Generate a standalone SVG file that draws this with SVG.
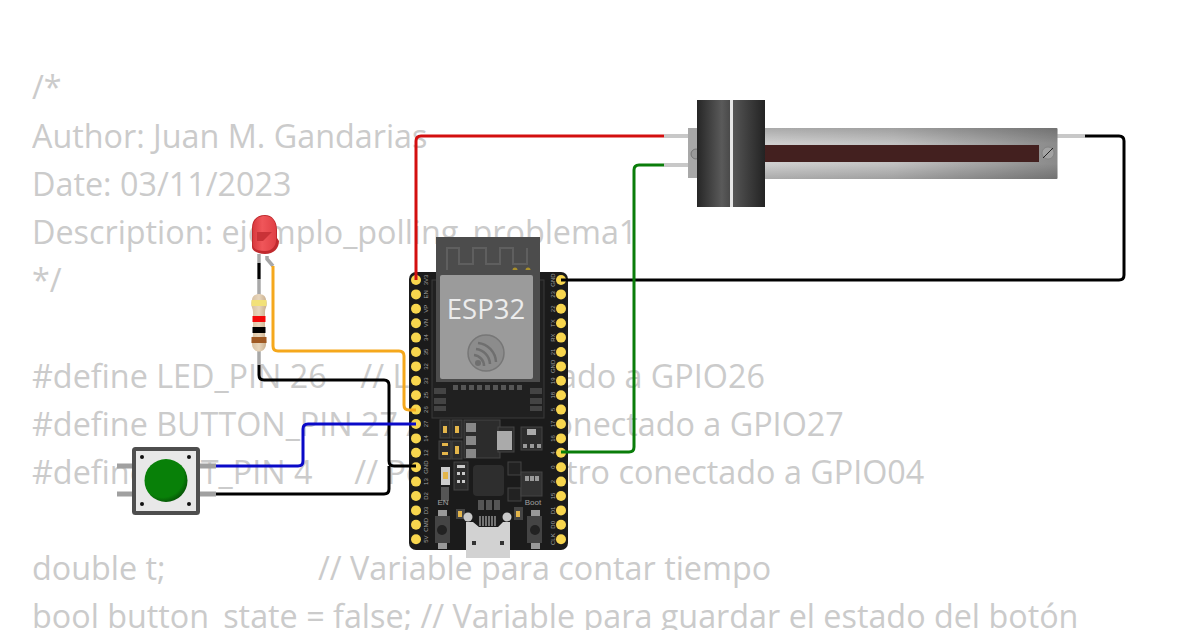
<svg xmlns="http://www.w3.org/2000/svg" width="1200" height="630" viewBox="0 0 1200 630">
<style>
.code{font-family:"Open Sans","Noto Sans",sans-serif;font-size:32.320px;fill:#cbcbcb}
.w{fill:none;stroke-width:3;stroke-linejoin:round}
.pin{fill:#f8d64e;stroke:none}
.pl{font-family:"Liberation Sans",sans-serif;font-size:6px;fill:#a0a0a0;text-anchor:middle}
.lead{fill:none;stroke:#a8a8a8;stroke-width:3.500}
.slead{fill:none;stroke:#c8c8c8;stroke-width:4}
.sil{font-family:"Liberation Sans",sans-serif;font-size:8px;fill:#a0a0a0;text-anchor:middle}
</style>
<defs>
<linearGradient id="kn" x1="0" x2="1" y1="0" y2="0"><stop offset="0" stop-color="#262626"/><stop offset="0.75" stop-color="#5a5a5a"/><stop offset="1" stop-color="#4a4a4a"/></linearGradient>
<linearGradient id="kn2" x1="0" x2="1" y1="0" y2="0"><stop offset="0" stop-color="#555"/><stop offset="1" stop-color="#232323"/></linearGradient>
<linearGradient id="body" x1="0" x2="1" y1="0" y2="0"><stop offset="0" stop-color="#d0d0d0"/><stop offset="0.45" stop-color="#c2c2c2"/><stop offset="1" stop-color="#8a8a8a"/></linearGradient>
<linearGradient id="bodyv" x1="0" x2="0" y1="0" y2="1"><stop offset="0" stop-color="#000" stop-opacity="0.18"/><stop offset="0.3" stop-color="#000" stop-opacity="0"/><stop offset="0.7" stop-color="#000" stop-opacity="0"/><stop offset="1" stop-color="#000" stop-opacity="0.18"/></linearGradient>
<radialGradient id="btn" cx="0.42" cy="0.4" r="0.68"><stop offset="0.72" stop-color="#088008"/><stop offset="1" stop-color="#044004"/></radialGradient>
<linearGradient id="res" x1="0" x2="1" y1="0" y2="0"><stop offset="0" stop-color="#d8c0a0"/><stop offset="0.5" stop-color="#e8d6bc"/><stop offset="1" stop-color="#c8ae8c"/></linearGradient>
<linearGradient id="ledg" x1="0" x2="1" y1="0" y2="0"><stop offset="0" stop-color="#d93a3e"/><stop offset="0.4" stop-color="#f0565a"/><stop offset="1" stop-color="#e04045"/></linearGradient>
</defs>

<g id="code-text" opacity="0.99">
<text class="code" x="32" y="99">/*</text>
<text class="code" x="32" y="148">Author: Juan M. Gandarias</text>
<text class="code" x="32" y="196">Date: 03/11/2023</text>
<text class="code" x="32" y="244">Description: ejemplo_polling_problema1</text>
<text class="code" x="32" y="292">*/</text>
<text class="code" x="32" y="388" xml:space="preserve">#define LED_PIN 26    // LED conectado a GPIO26</text>
<text class="code" x="32" y="436" xml:space="preserve">#define BUTTON_PIN 27 // Botón conectado a GPIO27</text>
<text class="code" x="32" y="484" xml:space="preserve">#define POT_PIN 4     // Potenciómetro conectado a GPIO04</text>
<text class="code" x="32" y="580">double t;</text>
<text class="code" x="318" y="580">// Variable para contar tiempo</text>
<text class="code" x="32" y="628" xml:space="preserve">bool button_state = false; // Variable para guardar el estado del botón</text>
</g>

<g id="slider">
<path class="slead" d="M664 136H690M664 165H690M1057 136H1085"/>
<rect x="688" y="128" width="12" height="50" fill="#a8a8a8"/>
<circle cx="696" cy="154" r="5" fill="#999" stroke="#666" stroke-width="0.7"/>
<rect x="760" y="128" width="297.500" height="51" rx="1" fill="url(#body)"/>
<rect x="760" y="128" width="297.500" height="51" rx="1" fill="url(#bodyv)"/>
<rect x="764" y="145" width="275" height="17" fill="#43201f"/>
<circle cx="1048" cy="153" r="6" fill="#a2a2a2" stroke="#777" stroke-width="0.6"/>
<path d="M1043 158L1053 148" stroke="#222" stroke-width="1"/>
<rect x="697" y="100" width="33" height="107" fill="url(#kn)"/>
<rect x="733" y="100" width="32" height="107" fill="url(#kn2)"/>
<rect x="730" y="100" width="3" height="107" fill="#e6e6e6"/>
</g>

<g id="esp32">
<rect x="409" y="272" width="159" height="278" rx="7" fill="#1b1b1b"/>
<rect x="436" y="237" width="104" height="50" fill="#4c4c4c"/>
<path d="M447 270V248H459V264H473V248H486V264H500V248H513V264H527V248" fill="none" stroke="#5f5f5f" stroke-width="2"/>
<circle cx="515" cy="270" r="2.500" fill="#a88f2c"/>
<circle cx="528" cy="270" r="2.500" fill="#a88f2c"/>
<rect x="432" y="280" width="112" height="138" fill="#202020" stroke="#3a3a3a"/>
<rect x="436" y="270" width="104" height="112" fill="#4c4c4c"/>
<rect x="440" y="275" width="93" height="104" rx="2" fill="#9b9b9b"/>
<text x="486" y="319" font-family="Open Sans,Noto Sans,sans-serif" font-size="27.500" fill="#ececec" text-anchor="middle">ESP32</text>
<circle cx="486" cy="353" r="18" fill="#8c8c8c" stroke="#777" stroke-width="1.500"/>
<path d="M478 343a20 20 0 0 1 18 19M476 349a16 16 0 0 1 14 15M474 355a11 11 0 0 1 10 11" fill="none" stroke="#6f6f6f" stroke-width="2.500"/>
<circle cx="478" cy="363" r="3" fill="#6f6f6f"/>
<g fill="#555"><rect x="453" y="385" width="5" height="5"/><rect x="461" y="385" width="5" height="5"/><rect x="469" y="385" width="5" height="5"/><rect x="477" y="385" width="5" height="5"/><rect x="485" y="385" width="5" height="5"/><rect x="493" y="385" width="5" height="5"/><rect x="501" y="385" width="5" height="5"/><rect x="509" y="385" width="5" height="5"/><rect x="517" y="385" width="5" height="5"/></g>
<g fill="#444"><rect x="434" y="388" width="12" height="6"/><rect x="434" y="398" width="12" height="6"/><rect x="434" y="406" width="12" height="5"/><rect x="530" y="388" width="12" height="6"/><rect x="530" y="398" width="12" height="6"/><rect x="530" y="406" width="12" height="5"/></g>
<g fill="#2c2c2c" stroke="#444"><rect x="440" y="420" width="10" height="18"/><rect x="452" y="420" width="10" height="18"/><rect x="439" y="441" width="12" height="18"/><rect x="452" y="441" width="10" height="18"/><rect x="464" y="420" width="36" height="38"/><rect x="498" y="427" width="16" height="25"/><rect x="521" y="427" width="21" height="23"/></g>
<g fill="#e3b54a"><rect x="443" y="426" width="4" height="7"/><rect x="455" y="426" width="4" height="7"/><rect x="455" y="446" width="4" height="8"/><rect x="442" y="443" width="6" height="3"/><rect x="442" y="452" width="6" height="3"/></g>
<rect x="466" y="423" width="10" height="9" fill="#888"/><rect x="466" y="436" width="10" height="9" fill="#888"/><rect x="466" y="449" width="10" height="9" fill="#888"/>
<rect x="497" y="431" width="15" height="19" fill="#aaa"/>
<rect x="527" y="429" width="9" height="6" fill="#aaa"/><rect x="523" y="444" width="4" height="4" fill="#999"/><rect x="530" y="444" width="4" height="4" fill="#999"/><rect x="537" y="444" width="4" height="4" fill="#999"/>
<rect x="454" y="462" width="14" height="28" fill="#2c2c2c" stroke="#444"/>
<g fill="#c9c9c9"><rect x="457" y="465" width="8" height="3"/><rect x="457" y="472" width="3" height="3"/><rect x="462" y="472" width="3" height="3"/><rect x="457" y="480" width="3" height="3"/><rect x="462" y="480" width="3" height="3"/></g>
<rect x="441" y="467" width="9" height="18" fill="#ccc"/><rect x="443" y="472" width="5" height="7" fill="#e3b54a"/>
<rect x="441" y="487" width="8" height="14" fill="#555"/>
<rect x="473" y="465" width="31" height="31" rx="4" fill="#2e2e2e"/>
<rect x="508" y="462" width="13" height="13" fill="#222" stroke="#444"/><rect x="508" y="488" width="13" height="13" fill="#222" stroke="#444"/>
<rect x="521" y="472" width="21" height="24" fill="#333" stroke="#444"/>
<rect x="525" y="476" width="4" height="5" fill="#999"/><rect x="530" y="476" width="4" height="5" fill="#999"/><rect x="535" y="476" width="4" height="5" fill="#999"/>
<text class="sil" x="443" y="505">EN</text><text class="sil" x="533" y="505">Boot</text>
<rect x="438" y="510" width="9" height="6" fill="#999"/><rect x="438" y="543" width="9" height="6" fill="#999"/><rect x="435" y="516" width="15" height="27" fill="#444"/><circle cx="442" cy="530" r="5" fill="#222"/>
<rect x="531" y="510" width="9" height="6" fill="#999"/><rect x="531" y="543" width="9" height="6" fill="#999"/><rect x="527" y="516" width="15" height="27" fill="#444"/><circle cx="535" cy="530" r="5" fill="#222"/>
<rect x="456" y="509" width="9" height="10" fill="#444"/><rect x="458" y="511" width="4" height="6" fill="#e3b54a"/>
<rect x="514" y="507" width="9" height="13" fill="#444"/><rect x="516" y="511" width="4" height="6" fill="#e3b54a"/>
<rect x="478" y="500" width="6" height="10" fill="#555"/><rect x="486" y="500" width="6" height="10" fill="#555"/><rect x="494" y="500" width="6" height="10" fill="#555"/>
<g stroke="#ccc" stroke-width="1"><path d="M480 516V526M483 516V526M486 516V526M489 516V526M492 516V526M495 516V526"/></g>
<circle cx="468" cy="517" r="4.500" fill="#c8c8c8"/><circle cx="507" cy="517" r="4.500" fill="#c8c8c8"/>
<path d="M466 522H473L479 527H498L503 522H510V558H466Z" fill="#d2d2d2"/>
<rect x="472" y="541" width="4" height="4" fill="#333"/><rect x="500" y="541" width="4" height="4" fill="#333"/>
<g class="pin">
<circle cx="416" cy="280" r="5"/><circle cx="416" cy="294.400" r="5"/><circle cx="416" cy="308.800" r="5"/><circle cx="416" cy="323.200" r="5"/><circle cx="416" cy="337.600" r="5"/><circle cx="416" cy="352" r="5"/><circle cx="416" cy="366.400" r="5"/><circle cx="416" cy="380.800" r="5"/><circle cx="416" cy="395.200" r="5"/><circle cx="416" cy="409.600" r="5"/><circle cx="416" cy="424" r="5"/><circle cx="416" cy="438.400" r="5"/><circle cx="416" cy="452.800" r="5"/><circle cx="416" cy="467.200" r="5"/><circle cx="416" cy="481.600" r="5"/><circle cx="416" cy="496" r="5"/><circle cx="416" cy="510.400" r="5"/><circle cx="416" cy="524.800" r="5"/><circle cx="416" cy="539.200" r="5"/>
<circle cx="561" cy="280" r="5"/><circle cx="561" cy="294.400" r="5"/><circle cx="561" cy="308.800" r="5"/><circle cx="561" cy="323.200" r="5"/><circle cx="561" cy="337.600" r="5"/><circle cx="561" cy="352" r="5"/><circle cx="561" cy="366.400" r="5"/><circle cx="561" cy="380.800" r="5"/><circle cx="561" cy="395.200" r="5"/><circle cx="561" cy="409.600" r="5"/><circle cx="561" cy="424" r="5"/><circle cx="561" cy="438.400" r="5"/><circle cx="561" cy="452.800" r="5"/><circle cx="561" cy="467.200" r="5"/><circle cx="561" cy="481.600" r="5"/><circle cx="561" cy="496" r="5"/><circle cx="561" cy="510.400" r="5"/><circle cx="561" cy="524.800" r="5"/><circle cx="561" cy="539.200" r="5"/>
</g>
<g class="pl">
<text transform="translate(428,280) rotate(-90)">3V3</text><text transform="translate(428,294.400) rotate(-90)">EN</text><text transform="translate(428,308.800) rotate(-90)">VP</text><text transform="translate(428,323.200) rotate(-90)">VN</text><text transform="translate(428,337.600) rotate(-90)">34</text><text transform="translate(428,352) rotate(-90)">35</text><text transform="translate(428,366.400) rotate(-90)">32</text><text transform="translate(428,380.800) rotate(-90)">33</text><text transform="translate(428,395.200) rotate(-90)">25</text><text transform="translate(428,409.600) rotate(-90)">26</text><text transform="translate(428,424) rotate(-90)">27</text><text transform="translate(428,438.400) rotate(-90)">14</text><text transform="translate(428,452.800) rotate(-90)">12</text><text transform="translate(428,467.200) rotate(-90)">GND</text><text transform="translate(428,481.600) rotate(-90)">13</text><text transform="translate(428,496) rotate(-90)">D2</text><text transform="translate(428,510.400) rotate(-90)">D3</text><text transform="translate(428,524.800) rotate(-90)">CMD</text><text transform="translate(428,539.200) rotate(-90)">5V</text>
<text transform="translate(555,280) rotate(-90)">GND</text><text transform="translate(555,294.400) rotate(-90)">23</text><text transform="translate(555,308.800) rotate(-90)">22</text><text transform="translate(555,323.200) rotate(-90)">TX</text><text transform="translate(555,337.600) rotate(-90)">RX</text><text transform="translate(555,352) rotate(-90)">21</text><text transform="translate(555,366.400) rotate(-90)">GND</text><text transform="translate(555,380.800) rotate(-90)">19</text><text transform="translate(555,395.200) rotate(-90)">18</text><text transform="translate(555,409.600) rotate(-90)">5</text><text transform="translate(555,424) rotate(-90)">17</text><text transform="translate(555,438.400) rotate(-90)">16</text><text transform="translate(555,452.800) rotate(-90)">4</text><text transform="translate(555,467.200) rotate(-90)">0</text><text transform="translate(555,481.600) rotate(-90)">2</text><text transform="translate(555,496) rotate(-90)">15</text><text transform="translate(555,510.400) rotate(-90)">D1</text><text transform="translate(555,524.800) rotate(-90)">D0</text><text transform="translate(555,539.200) rotate(-90)">CLK</text>
</g>
</g>

<g id="led">
<path class="lead" d="M259 254V290"/>
<path class="lead" d="M267 256V259L273 266"/>
<path d="M252 228C252 219 258 215 265 215C272 215 277 221 277 230V238L279 241C279 248 274 254 265 254C258 254 252 251 252 247Z" fill="#c02a2e"/>
<path d="M253 228C253 220 258 216 265 216C272 216 276 221 276 230V240C276 246 272 251 265 251C258 251 253 249 253 245Z" fill="url(#ledg)"/>
<path d="M257 232H272L263 241H257Z" fill="#c93237"/>
</g>

<g id="resistor">
<path class="lead" d="M259 290V298M259 350V365"/>
<path d="M252 300C252 292 266 292 266 300C268 306 265 308 265 312V334C265 338 267 340 266 344C266 354 252 354 252 344C251 340 253 338 253 334V312C253 308 250 306 252 300Z" fill="url(#res)"/>
<rect x="251.500" y="300" width="15" height="6" fill="#f2e178"/>
<rect x="252.500" y="316" width="13" height="6" fill="#f40a0a"/>
<rect x="252.500" y="327" width="13" height="6" fill="#000"/>
<rect x="251.500" y="337" width="15" height="6" fill="#a05a24"/>
</g>

<g id="button">
<path d="M117 466H134M117 494H134M198 466H216M198 494H216" stroke="#a0a0a0" stroke-width="5" fill="none"/>
<rect x="134" y="449" width="64" height="64" rx="1.500" fill="#e8e8e8" stroke="#4e4e4e" stroke-width="4"/>
<circle cx="142" cy="457" r="2" fill="#111"/><circle cx="189" cy="457" r="2" fill="#111"/><circle cx="142" cy="504" r="2" fill="#111"/><circle cx="189" cy="504" r="2" fill="#111"/>
<circle cx="166" cy="480.500" r="21.500" fill="url(#btn)"/>
</g>

<g id="connectors">
<path class="w" stroke="#000" d="M259 263V279"/>
<path class="w" stroke="#d30f0f" d="M416 280V141Q416 136 421 136H664"/>
<path class="w" stroke="#000" d="M561 280H1119Q1124 280 1124 275V141Q1124 136 1119 136H1085"/>
<path class="w" stroke="#0a7d0a" d="M561 452H629Q634 452 634 447V170Q634 165 639 165H664"/>
<path class="w" stroke="#f5a81c" d="M273 266V346Q273 351 278 351H399Q404 351 404 356V405Q404 410 409 410H416"/>
<path class="w" stroke="#000" d="M259 365V375Q259 380 264 380H384Q389 380 389 385V461Q389 466 394 466H416"/>
<path class="w" stroke="#000" d="M216 494H384Q389 494 389 489V466"/>
<path class="w" stroke="#0a0ac8" d="M216 466H298Q303 466 303 461V429Q303 424 308 424H416"/>
</g>
</svg>
